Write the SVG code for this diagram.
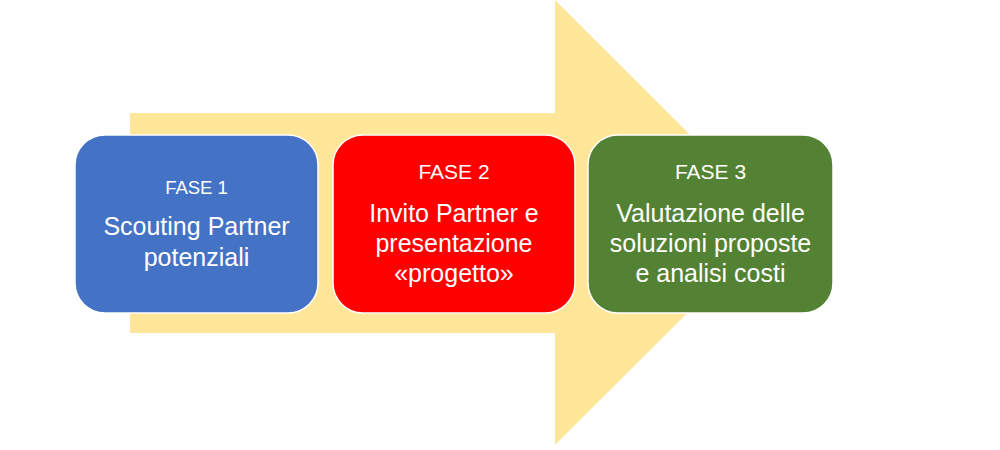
<svg xmlns="http://www.w3.org/2000/svg" width="1000" height="450" viewBox="0 0 1000 450">
<style>
.box{stroke:#ffffff;stroke-width:1.5}
.t{font-family:"Liberation Sans",Arial,sans-serif;fill:#ffffff;text-anchor:middle}
.h{font-size:21px}
.b{font-size:25px}
</style>
<rect width="1000" height="450" fill="#ffffff"/>
<g id="connectors">
<polygon points="130,113 555,113 555,0 778,222.5 555,445 555,333 130,333" fill="#FFE699"/>
</g>
<g id="fase1">
<rect class="box" x="75" y="135" width="243" height="178" rx="30" fill="#4472C4"/>
<text class="t" x="196.5" y="194" style="font-size:18.5px">FASE 1</text>
<text class="t b" x="196.5" y="235">Scouting Partner</text>
<text class="t b" x="196.5" y="266">potenziali</text>
</g>
<g id="fase2">
<rect class="box" x="333" y="135" width="242" height="178" rx="30" fill="#FF0000"/>
<text class="t h" x="454" y="179">FASE 2</text>
<text class="t b" x="454" y="222">Invito Partner e</text>
<text class="t b" x="454" y="252">presentazione</text>
<text class="t b" x="454" y="282">«progetto»</text>
</g>
<g id="fase3">
<rect class="box" x="588" y="135" width="245" height="178" rx="30" fill="#548235"/>
<text class="t h" x="710.5" y="179">FASE 3</text>
<text class="t b" x="710.5" y="222">Valutazione delle</text>
<text class="t b" x="710.5" y="252">soluzioni proposte</text>
<text class="t b" x="710.5" y="282">e analisi costi</text>
</g>
</svg>
